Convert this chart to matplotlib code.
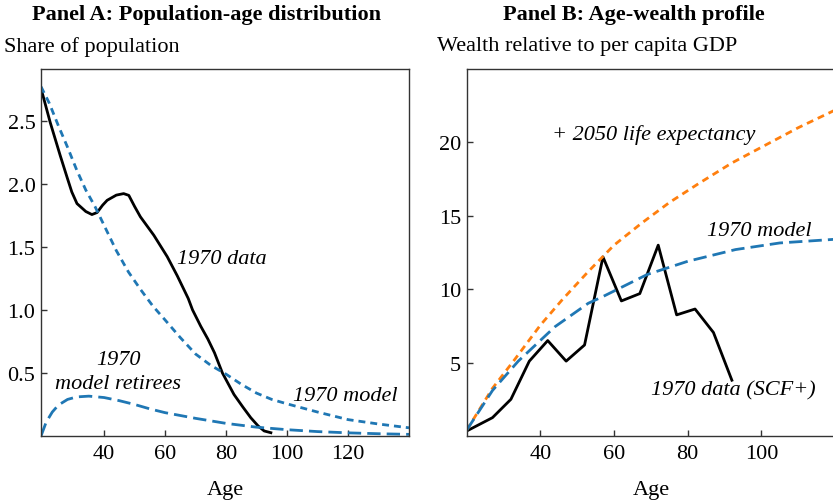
import matplotlib.pyplot as plt

plt.rcParams['font.family'] = ['Liberation Serif', 'DejaVu Serif']
plt.rcParams['font.size'] = 16

# Panel A: population-age distribution
data_age = [19.3, 22.3, 25.6, 28.0, 29.4, 31.1, 34.0, 36.0, 37.7, 39.5, 41.0, 44.0, 46.4, 48.1,
            50.0, 51.9, 56.3, 60.7, 64.0, 67.6, 69.0, 71.7, 74.0, 76.2, 78.8, 82.6, 85.5,
            88.1, 90.5, 92.5, 94.7]
data_share = [2.757, 2.488, 2.224, 2.04, 1.935, 1.843, 1.78, 1.756, 1.772, 1.83, 1.869, 1.91,
              1.922, 1.908, 1.82, 1.738, 1.592, 1.422, 1.27, 1.09, 1.0, 0.87, 0.77, 0.66,
              0.5, 0.329, 0.23, 0.145, 0.08, 0.04, 0.026]

model_age = [19.3, 22, 25, 28, 31, 34, 37, 40, 44, 48, 52, 56, 60, 65, 70, 75, 80,
             85, 90, 95, 100, 110, 120, 130, 140]
model_share = [2.77, 2.64, 2.46, 2.29, 2.11, 1.95, 1.82, 1.67, 1.47, 1.30, 1.16, 1.03, 0.92,
               0.78, 0.65, 0.56, 0.49, 0.41, 0.34, 0.29, 0.255, 0.19, 0.13, 0.095, 0.065]

ret_age = [19.3, 21, 23, 25, 28, 31, 35, 40, 45, 50, 55, 60, 66, 70, 80, 90, 100,
           110, 120, 130, 140]
ret_share = [0.0, 0.11, 0.19, 0.245, 0.29, 0.31, 0.316, 0.305, 0.28, 0.25, 0.215, 0.185,
             0.158, 0.14, 0.10, 0.07, 0.05, 0.035, 0.025, 0.018, 0.013]

# Panel B: age-wealth profile
scf_age = [20, 27, 32, 37, 42, 47, 52, 57, 62, 67, 72, 77, 82, 87, 92]
scf_wealth = [0.34, 1.25, 2.5, 5.1, 6.5, 5.1, 6.2, 12.2, 9.2, 9.7, 13.0, 8.25, 8.65, 7.05, 3.8]

le_age = [20, 27, 33, 40, 46, 53, 60, 67.5, 75, 83, 92, 101, 110, 120]
le_wealth = [0.4, 3.25, 5.2, 7.55, 9.3, 11.2, 13.0, 14.5, 15.9, 17.2, 18.6, 19.8, 21.0, 22.2]

mb_age = [20, 27, 34, 44, 53, 57, 63, 69, 80, 93, 105, 120]
mb_wealth = [0.4, 3.1, 5.1, 7.45, 9.04, 9.5, 10.25, 11.0, 11.9, 12.7, 13.15, 13.4]

blue = '#1f77b4'
orange = '#ff7f0e'

fig = plt.figure(figsize=(8.33, 5.02), dpi=100)
ax1 = fig.add_axes([41/833, 65/502, 368/833, 367/502])
ax2 = fig.add_axes([466.7/833, 65/502, 368.3/833, 367/502])

ax1.plot(data_age, data_share, color='black', lw=2)
ax1.plot(model_age, model_share, color=blue, lw=2, dashes=(2.5, 1.8))
ax1.plot(ret_age, ret_share, color=blue, lw=2, dashes=(4.8, 2.2))
ax1.set_xlim(19.3, 140)
ax1.set_ylim(0, 2.91)
ax1.set_xticks([40, 60, 80, 100, 120])
ax1.set_yticks([0.5, 1.0, 1.5, 2.0, 2.5])

ax1.text(78.6, 1.41, '1970 data', style='italic', ha='center', va='center')
ax1.text(44.7, 0.605, '1970', style='italic', ha='center', va='center')
ax1.text(44.7, 0.42, 'model retirees', style='italic', ha='center', va='center')
ax1.text(119.1, 0.324, '1970 model', style='italic', ha='center', va='center')

ax2.plot(scf_age, scf_wealth, color='black', lw=2)
ax2.plot(le_age, le_wealth, color=orange, lw=2, dashes=(2.5, 1.8))
ax2.plot(mb_age, mb_wealth, color=blue, lw=2, dashes=(4.8, 2.2))
ax2.set_xlim(20, 120)
ax2.set_ylim(0, 25)
ax2.set_xticks([40, 60, 80, 100])
ax2.set_yticks([5, 10, 15, 20])

ax2.text(70.9, 20.55, '+ 2050 life expectancy', style='italic', ha='center', va='center')
ax2.text(99.5, 14.03, '1970 model', style='italic', ha='center', va='center')
ax2.text(92.3, 3.13, '1970 data (SCF+)', style='italic', ha='center', va='center')

for ax in (ax1, ax2):
    for s in ax.spines.values():
        s.set_color('#333333')
        s.set_linewidth(1.0)
    ax.tick_params(direction='in', length=4, width=1, color='#333333', labelsize=16)
    ax.tick_params(axis='x', pad=6)
    ax.tick_params(axis='y', pad=4)
    ax.set_xlabel('Age', fontsize=16, labelpad=12)

fig.text(206/833, 1 - 15/502, 'Panel A: Population-age distribution', fontweight='bold',
         ha='center', va='center', fontsize=16)
fig.text(4/833, 1 - 47/502, 'Share of population', ha='left', va='center', fontsize=16)
fig.text(634/833, 1 - 15/502, 'Panel B: Age-wealth profile', fontweight='bold',
         ha='center', va='center', fontsize=16)
fig.text(437/833, 1 - 47/502, 'Wealth relative to per capita GDP', ha='left', va='center',
         fontsize=16)

fig.savefig('out.png', dpi=100)
